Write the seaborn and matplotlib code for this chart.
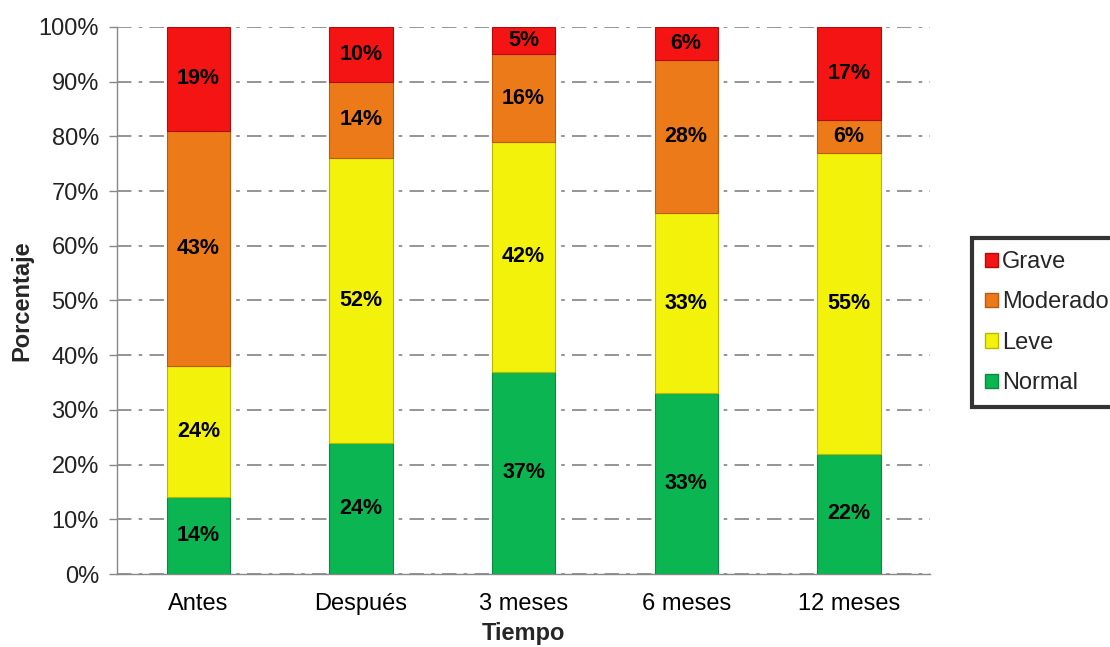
import matplotlib.pyplot as plt
import numpy as np
import pandas as pd
import seaborn as sns
from matplotlib.patches import Patch
from matplotlib.ticker import FixedLocator, PercentFormatter

categorias = ["Antes", "Después", "3 meses", "6 meses", "12 meses"]
niveles = ["Normal", "Leve", "Moderado", "Grave"]
normal = [14, 24, 37, 33, 22]
leve = [24, 52, 42, 33, 55]
moderado = [43, 14, 16, 28, 6]
grave = [19, 10, 5, 6, 17]

colores = {"Normal": "#0BB552", "Leve": "#F2F20A", "Moderado": "#EC7A18", "Grave": "#F41414"}
bordes = {"Normal": "#0A8A40", "Leve": "#B8B800", "Moderado": "#B85A10", "Grave": "#B00C0C"}

sns.set_theme(style="white")
plt.rcParams["font.family"] = ["Liberation Sans", "DejaVu Sans"]

df = pd.DataFrame({"Tiempo": categorias, "Normal": normal, "Leve": leve,
                   "Moderado": moderado, "Grave": grave})

fig = plt.figure(figsize=(11.1, 6.47), dpi=100)
ax = fig.add_axes([0.1054, 0.1128, 0.7326, 0.8455])

acumulado = np.zeros(len(categorias))
for nivel in niveles:
    sns.barplot(data=df, x="Tiempo", y=nivel, color=colores[nivel], bottom=acumulado,
                width=0.39, edgecolor=bordes[nivel], linewidth=0.8, saturation=1,
                ax=ax, zorder=3)
    for i, v in enumerate(df[nivel]):
        ax.text(i, acumulado[i] + v / 2, f"{v}%", ha="center", va="center",
                fontsize=15.5, fontweight="bold", color="black", zorder=4)
    acumulado += df[nivel].to_numpy()

ax.set_ylim(0, 100)
ax.set_xlim(-0.5, len(categorias) - 0.5)
ax.yaxis.set_major_locator(FixedLocator(np.arange(0, 101, 10)))
ax.yaxis.set_major_formatter(PercentFormatter(decimals=0))
ax.xaxis.set_minor_locator(FixedLocator(np.arange(-0.5, len(categorias), 1)))
ax.tick_params(axis="x", which="major", length=0, labelsize=17, pad=14, labelcolor="black")
ax.tick_params(axis="x", which="minor", length=6, width=1, color="#888888", direction="out")
ax.tick_params(axis="y", length=6, width=1, color="#888888", labelsize=17, direction="out",
               left=True, pad=7, labelcolor="#222222")

ax.grid(axis="y", color="#8C8C8C", linestyle=(0, (8, 4, 2, 4)), linewidth=1.3, zorder=0)
for lado in ["top", "right"]:
    ax.spines[lado].set_visible(False)
for lado in ["left", "bottom"]:
    ax.spines[lado].set_color("#888888")
    ax.spines[lado].set_linewidth(1)

ax.set_xlabel("Tiempo", fontsize=17, fontweight="bold", labelpad=5)
ax.set_ylabel("Porcentaje", fontsize=17, fontweight="bold", labelpad=4)

handles = [Patch(facecolor=colores[n], edgecolor=bordes[n], label=n) for n in reversed(niveles)]
leg = fig.legend(handles=handles, loc="upper left", bbox_to_anchor=(0.876, 0.632),
                 fontsize=17, frameon=True, fancybox=False, handlelength=0.55,
                 handleheight=0.55, handletextpad=0.15, labelspacing=0.78,
                 borderpad=0.55, borderaxespad=0)
leg.get_frame().set_edgecolor("black")
leg.get_frame().set_linewidth(3)

fig.savefig("out.png", dpi=100)
